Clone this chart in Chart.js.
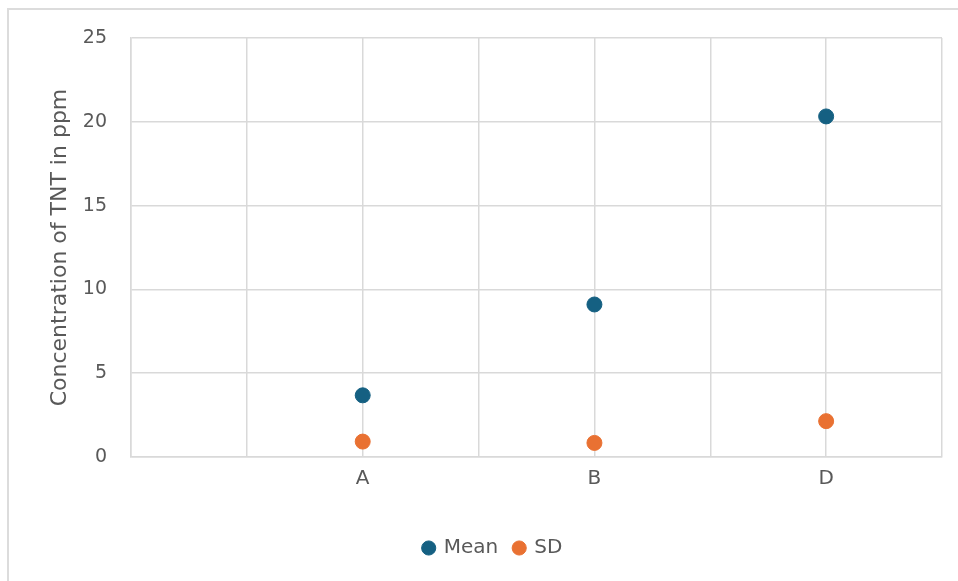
<!DOCTYPE html>
<html>
<head>
<meta charset="utf-8">
<script src="https://cdn.jsdelivr.net/npm/chart.js@4.4.1/dist/chart.umd.min.js"></script>
<style>
  html, body { margin: 0; padding: 0; background: #ffffff; overflow: hidden; }
  #wrap { position: relative; width: 958px; height: 581px; }
  #frame {
    position: absolute; left: 7px; top: 8px; width: 1000px; height: 1000px;
    border: 2px solid #dcdcdc; box-sizing: border-box; pointer-events: none;
  }
  canvas { position: absolute; left: 0; top: 0; }
</style>
</head>
<body>
<div id="wrap">
  <canvas id="chart" width="958" height="581"></canvas>
  <div id="frame"></div>
</div>
<script>
// Sample sites and their x positions on the value axis
const categories = ['A', 'B', 'D'];
const sitePositions = [1, 2, 3];

// TNT concentration statistics per site (ppm)
const meanValues = [3.68, 9.1, 20.32];
const sdValues = [0.92, 0.84, 2.14];

// Value-axis ticks
const yTicks = [0, 5, 10, 15, 20, 25];

const FONT = 'DejaVu Sans, sans-serif';
const TEXT = '#595959';
const GRID = '#d9d9d9';

const toPoints = (vals) => vals.map((v, i) => ({ x: sitePositions[i], y: v }));

new Chart(document.getElementById('chart'), {
  type: 'scatter',
  data: {
    datasets: [
      {
        label: 'Mean',
        data: toPoints(meanValues),
        backgroundColor: '#156082',
        borderColor: '#156082',
        pointRadius: 7.5,
        pointHoverRadius: 7.5
      },
      {
        label: 'SD',
        data: toPoints(sdValues),
        backgroundColor: '#e97132',
        borderColor: '#e97132',
        pointRadius: 7.5,
        pointHoverRadius: 7.5
      }
    ]
  },
  options: {
    responsive: false,
    animation: false,
    layout: { padding: { left: 44, top: 38, right: 16, bottom: 13 } },
    plugins: {
      tooltip: { enabled: false },
      legend: {
        position: 'bottom',
        labels: {
          usePointStyle: true,
          pointStyle: 'circle',
          boxWidth: 10,
          boxHeight: 10,
          padding: 16,
          color: TEXT,
          font: { family: FONT, size: 20 }
        }
      }
    },
    scales: {
      x: {
        type: 'linear',
        min: 0,
        max: 3.5,
        afterBuildTicks: (scale) => {
          const t = [];
          for (let v = 0; v <= 3.5 + 1e-9; v += 0.5) t.push({ value: v });
          scale.ticks = t;
        },
        afterFit: (scale) => { scale.height = 65; },
        grid: { color: GRID, lineWidth: 1.5, drawTicks: false },
        border: { color: GRID, width: 1.5 },
        ticks: {
          padding: 10,
          color: TEXT,
          font: { family: FONT, size: 20 },
          maxRotation: 0,
          autoSkip: false,
          callback: (v) => {
            const i = sitePositions.indexOf(v);
            return i >= 0 ? categories[i] : '';
          }
        }
      },
      y: {
        min: 0,
        max: 25,
        afterBuildTicks: (scale) => { scale.ticks = yTicks.map(v => ({ value: v })); },
        afterFit: (scale) => { scale.width = 87; },
        grid: { color: GRID, lineWidth: 1.5, drawTicks: false },
        border: { color: GRID, width: 1.5 },
        ticks: {
          padding: 24,
          color: TEXT,
          font: { family: FONT, size: 19 }
        },
        title: {
          display: true,
          text: 'Concentration of TNT in ppm',
          color: TEXT,
          font: { family: FONT, size: 22, weight: 'normal' },
          padding: { top: 3, bottom: 0 }
        }
      }
    }
  }
});
</script>
</body>
</html>
